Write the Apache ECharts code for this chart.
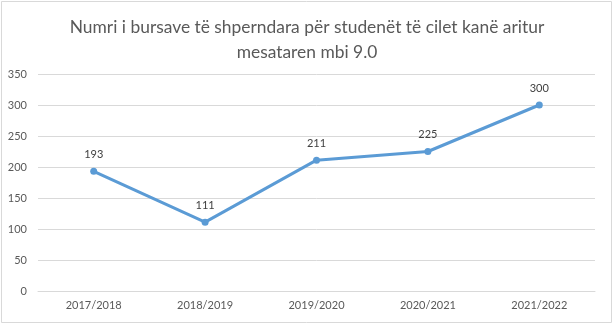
<!DOCTYPE html>
<html><head><meta charset="utf-8">
<script src="https://cdn.jsdelivr.net/npm/echarts@6/dist/echarts.min.js"></script>
<style>html,body{margin:0;padding:0;background:#fff}#c{width:614px;height:326px}</style>
</head><body><div id="c"></div>
<script>
const categories = ['2017/2018','2018/2019','2019/2020','2020/2021','2021/2022'];
const values = [193, 111, 211, 225, 300];
const titleText = 'Numri i bursave të shperndara për studenët të cilet kanë aritur\nmesataren mbi 9.0';

const chart = echarts.init(document.getElementById('c'));
chart.setOption({
  animation: false,
  backgroundColor: '#fff',
  textStyle: { fontFamily: 'Lato, "Open Sans", sans-serif' },
  graphic: [{ type: 'rect', shape: { x: 1.5, y: 1.5, width: 610, height: 321 }, style: { fill: 'none', stroke: '#d9d9d9', lineWidth: 1 } }],
  title: {
    text: titleText, left: 'center', top: 10,
    textStyle: { fontSize: 17.4, fontWeight: 'normal', color: '#595959', lineHeight: 25, fontFamily: 'Lato, sans-serif' }
  },
  grid: { left: 38, right: 19, top: 74, bottom: 35 },
  xAxis: {
    type: 'category', data: categories, boundaryGap: true,
    axisLine: { lineStyle: { color: '#d9d9d9' } },
    axisTick: { show: false },
    axisLabel: { color: '#595959', fontSize: 11, margin: 9 }
  },
  yAxis: {
    type: 'value', min: 0, max: 350, interval: 50,
    axisLine: { show: false }, axisTick: { show: false },
    splitLine: { lineStyle: { color: '#d9d9d9' } },
    axisLabel: { color: '#595959', fontSize: 11, margin: 11 }
  },
  series: [{
    type: 'line', data: values,
    lineStyle: { color: '#5B9BD5', width: 3 },
    itemStyle: { color: '#5B9BD5' },
    symbol: 'circle', symbolSize: 7,
    label: { show: true, position: 'top', distance: 8, color: '#404040', fontSize: 11 }
  }]
});
</script></body></html>
